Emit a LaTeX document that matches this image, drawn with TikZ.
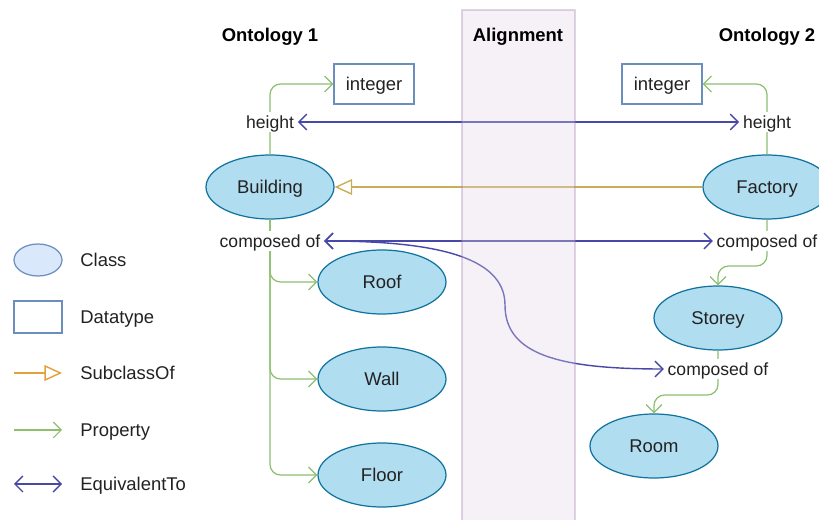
\documentclass[tikz,border=0pt]{standalone}
\usepackage{fontspec}
\setmainfont{Liberation Sans}
\usetikzlibrary{arrows.meta,shapes.geometric,positioning}

\definecolor{clsfill}{HTML}{B1DDF0}
\definecolor{clsdraw}{HTML}{10739E}
\definecolor{lgfill}{HTML}{DAE8FC}
\definecolor{dtdraw}{HTML}{6C8EBF}
\definecolor{propgreen}{HTML}{8CBF70}
\definecolor{eqblue}{HTML}{4848A8}
\definecolor{subgold}{HTML}{C9AE5A}
\definecolor{suborange}{HTML}{E3A239}
\definecolor{alignfill}{HTML}{E1D5E7}
\definecolor{aligndraw}{HTML}{9673A6}
\definecolor{txt}{HTML}{222222}

\tikzset{
	cls/.style={ellipse, draw=clsdraw, fill=clsfill, line width=0.7pt, minimum width=2.56cm, minimum height=1.28cm, inner sep=0pt, text depth=0pt, text=txt, font=\fontsize{10.5}{12}\selectfont},
	dtype/.style={rectangle, draw=dtdraw, fill=white, line width=0.7pt, minimum width=1.6cm, minimum height=0.8cm, inner sep=0pt, text depth=0pt, text=txt, font=\fontsize{10.5}{12}\selectfont},
	lbl/.style={fill=white, inner sep=2pt, text depth=0pt, text=txt, font=\fontsize{10}{12}\selectfont},
	lgtxt/.style={anchor=west, inner sep=0pt, text depth=0pt, text=txt, font=\fontsize{10.5}{12}\selectfont},
	ttl/.style={text depth=0pt, font=\fontsize{10.5}{12}\selectfont\bfseries},
	prop/.style={draw=propgreen, line width=0.7pt, rounded corners=6pt, -{Straight Barb[length=4.5pt,width=9pt]}},
	equiv/.style={draw=eqblue, line width=0.8pt, {Straight Barb[length=4.5pt,width=9pt]}-{Straight Barb[length=4.5pt,width=9pt]}},
	subcls/.style={line width=0.8pt, -{Triangle[open,length=10pt,width=9pt,fill=white]}}
}

\begin{document}
\begin{tikzpicture}[x=0.02cm, y=-0.02cm]
	\useasboundingbox (0,0) rectangle (819,520);
	\clip (0,0) rectangle (819,520);

	% ontology 1
	\node[cls] (bldg) at (270,187) {Building};
	\node[cls] (roof) at (382,282) {Roof};
	\node[cls] (wall) at (382,379) {Wall};
	\node[cls] (floor) at (382,475) {Floor};
	\node[dtype] (int1) at (374,84) {integer};

	% ontology 2
	\node[cls] (fact) at (767,187) {Factory};
	\node[cls] (store) at (718,318) {Storey};
	\node[cls] (room) at (654,446) {Room};
	\node[dtype] (int2) at (662,84) {integer};

	% properties
	\draw[prop] (bldg.north) |- (int1.west);
	\draw[prop] (bldg.south) |- (roof.west);
	\draw[prop] (bldg.south) |- (wall.west);
	\draw[prop] (bldg.south) |- (floor.west);
	\draw[prop] (fact.north) |- (int2.east);
	\draw[prop] (fact.south) -- (fact.south |- 0,266) -| (store.north);
	\draw[prop] (store.south) -- (store.south |- 0,395) -| (room.north);

	\node[lbl] (h1) at (270,122) {height};
	\node[lbl] (co1) at (270,241) {composed of};
	\node[lbl] (h2) at (767,122) {height};
	\node[lbl] (co2) at (767,241) {composed of};
	\node[lbl] (co3) at (718,369) {composed of};

	% alignment
	\draw[equiv] (h1) -- (h2);
	\draw[equiv] (co1) -- (co2);
	\draw[equiv] (co1.east) .. controls (430,241) and (505,255) .. (505,305)
		.. controls (505,355) and (560,369) .. (co3.west);
	\draw[subcls, draw=subgold] (fact) -- (bldg);

	\fill[alignfill, fill opacity=0.33, draw=aligndraw, draw opacity=0.3, line width=1pt]
		(462,10) rectangle (575,540);

	\node[ttl] (t1) at (270,35) {Ontology 1};
	\node[ttl] (t2) at (518,35) {Alignment};
	\node[ttl] (t3) at (767,35) {Ontology 2};

	% legend
	\node[ellipse, draw=dtdraw, fill=lgfill, line width=0.7pt, minimum width=0.96cm, minimum height=0.64cm] (lgcls) at (38,260) {};
	\node[rectangle, draw=dtdraw, fill=white, line width=0.7pt, minimum width=0.96cm, minimum height=0.64cm] (lgdt) at (38,317) {};
	\coordinate (lgs1) at (14,373);
	\coordinate (lgs2) at (62,373);
	\coordinate (lgp1) at (14,430);
	\coordinate (lgp2) at (62,430);
	\coordinate (lge1) at (14,484);
	\coordinate (lge2) at (62,484);
	\draw[subcls, draw=suborange] (lgs1) -- (lgs2);
	\draw[prop] (lgp1) -- (lgp2);
	\draw[equiv] (lge1) -- (lge2);

	\node[lgtxt] (lcls) at (80,260) {Class};
	\node[lgtxt] (ldt) at (80,317) {Datatype};
	\node[lgtxt] (lsub) at (80,373) {SubclassOf};
	\node[lgtxt] (lprop) at (80,430) {Property};
	\node[lgtxt] (leq) at (80,484) {EquivalentTo};
\end{tikzpicture}
\end{document}
